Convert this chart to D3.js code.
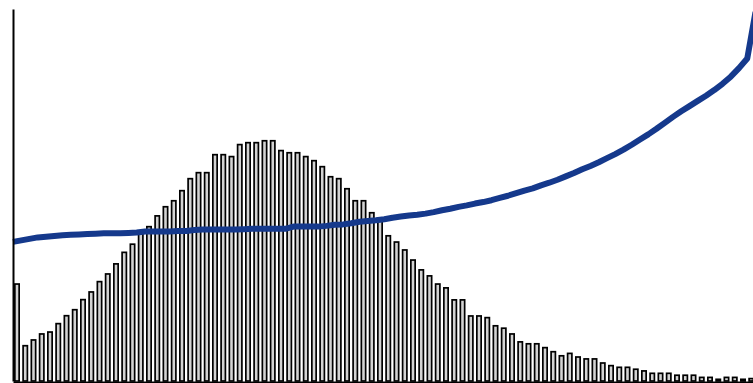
<!DOCTYPE html>
<html>
<head>
<meta charset="utf-8">
<script src="https://cdn.jsdelivr.net/npm/d3@7"></script>
<style>
  html, body { margin: 0; padding: 0; background: #fff; }
  svg { display: block; }
</style>
</head>
<body>
<svg id="chart" width="753" height="383"></svg>
<script>
// Histogram counts per bin (90 bins, left to right)
const binCounts = [
  404, 147, 171, 196, 204, 239, 272, 297, 339, 371,
  414, 446, 488, 536, 570, 617, 643, 688, 726, 751,
  793, 843, 868, 868, 943, 943, 935, 985, 993, 993,
  1001, 1001, 960, 951, 951, 935, 918, 893, 851, 843,
  801, 751, 751, 701, 675, 605, 579, 546, 504, 463,
  438, 404, 388, 338, 338, 271, 271, 264, 230, 220,
  196, 163, 155, 155, 139, 122, 105, 115, 100, 92,
  92, 75, 64, 57, 57, 49, 42, 32, 32, 32,
  24, 24, 24, 15, 15, 7, 15, 15, 7, 10
];

// Trend values (percent) at each bin edge (91 edges)
const trendValues = [
  37.4, 37.8, 38.2, 38.6, 38.8, 39.0, 39.2, 39.3, 39.4, 39.5,
  39.6, 39.7, 39.7, 39.7, 39.8, 39.9, 40.2, 40.2, 40.2, 40.2,
  40.3, 40.3, 40.6, 40.7, 40.7, 40.7, 40.7, 40.7, 40.8, 40.9,
  40.9, 40.9, 40.9, 40.9, 41.5, 41.5, 41.5, 41.5, 41.7, 42.0,
  42.1, 42.4, 42.8, 43.0, 43.2, 43.5, 43.9, 44.2, 44.5, 44.7,
  45.0, 45.4, 45.9, 46.3, 46.8, 47.2, 47.7, 48.1, 48.6, 49.2,
  49.8, 50.5, 51.2, 51.8, 52.6, 53.3, 54.1, 55.0, 55.9, 56.9,
  57.8, 58.8, 59.9, 61.0, 62.2, 63.5, 64.9, 66.3, 67.8, 69.4,
  71.0, 72.5, 73.9, 75.3, 76.7, 78.2, 79.9, 81.8, 84.1, 86.7,
  99.2
];

const yCountMax = 1550;
const yTrendMax = 100;

const svg = d3.select("#chart");
const plotLeft = 13, plotRight = 755.5, plotTop = 9, plotBottom = 381;

const x = d3.scaleBand()
  .domain(d3.range(binCounts.length))
  .range([plotLeft, plotRight])
  .padding(0);

const xEdge = d3.scaleLinear()
  .domain([0, binCounts.length])
  .range([plotLeft, plotRight]);

const y = d3.scaleLinear().domain([0, yCountMax]).range([plotBottom, plotTop]);
const y2 = d3.scaleLinear().domain([0, yTrendMax]).range([plotBottom, plotTop]);

// Bars
const strokeW = 1.7;
svg.append("g")
  .selectAll("rect")
  .data(binCounts)
  .join("rect")
  .attr("x", (d, i) => x(i) + 1 + strokeW / 2)
  .attr("width", x.bandwidth() - 2.25 - strokeW)
  .attr("y", d => y(d))
  .attr("height", d => y(0) - y(d))
  .attr("fill", "#d3d3d3")
  .attr("stroke", "#000")
  .attr("stroke-width", strokeW);

// Trend line
const line = d3.line()
  .x((d, i) => xEdge(i))
  .y(d => y2(d));

svg.append("path")
  .datum(trendValues)
  .attr("d", line)
  .attr("fill", "none")
  .attr("stroke", "#15398c")
  .attr("stroke-width", 6)
  .attr("stroke-linejoin", "round");

// Axes (lines only)
svg.append("g")
  .attr("transform", `translate(${plotLeft},0)`)
  .call(d3.axisLeft(y).ticks(0).tickSizeOuter(0));
svg.append("g")
  .attr("transform", `translate(0,${plotBottom + 1})`)
  .call(d3.axisBottom(x).tickValues([]).tickSizeOuter(0));
svg.selectAll(".domain").attr("stroke", "#000").attr("stroke-width", 2);
</script>
</body>
</html>
